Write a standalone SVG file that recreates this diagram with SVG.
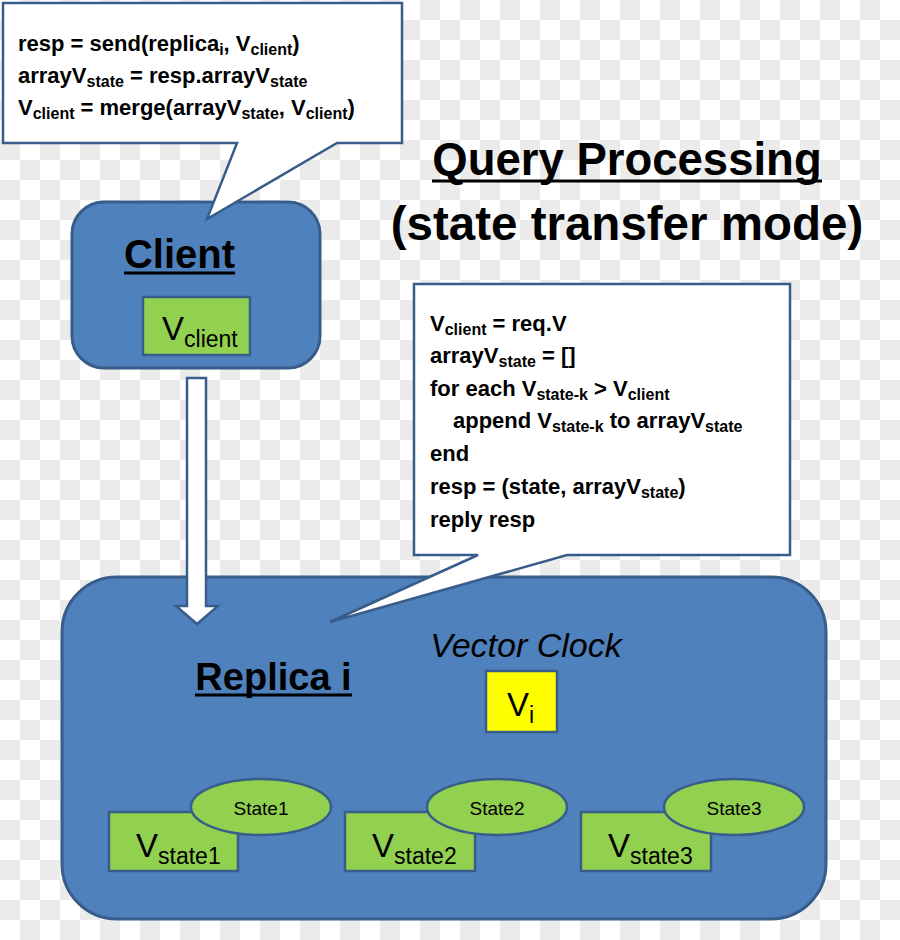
<svg xmlns="http://www.w3.org/2000/svg" width="900" height="940" viewBox="0 0 900 940">
<defs>
<pattern id="chk" patternUnits="userSpaceOnUse" width="40" height="40">
<rect width="40" height="40" fill="#ffffff"/>
<rect x="20" y="0" width="20" height="20" fill="#ebebeb"/>
<rect x="0" y="20" width="20" height="20" fill="#ebebeb"/>
</pattern>
<style>
.box{fill:#4f81bd;stroke:#385d8a;stroke-width:3}
.grn{fill:#92d050;stroke:#385d8a;stroke-width:2.5}
.call{fill:#ffffff;stroke:#385d8a;stroke-width:2.5;stroke-linejoin:miter}
.code{font-family:"Liberation Sans",Arial,sans-serif;font-weight:bold;font-size:22px;fill:#000}
.sub{font-size:16px}
.hdr{font-family:"Liberation Sans",Arial,sans-serif;font-weight:bold;fill:#000}
.ul{stroke:#000;stroke-width:3}
.lbl{font-family:"Liberation Sans",Arial,sans-serif;fill:#000}
</style>
</defs>
<rect width="900" height="940" fill="url(#chk)"/>

<g id="title">
<text class="hdr" x="627" y="175" font-size="45.5" text-anchor="middle">Query Processing</text>
<line class="ul" x1="432" y1="181" x2="822" y2="181"/>
<text class="hdr" x="627" y="240" font-size="47.5" text-anchor="middle">(state transfer mode)</text>
</g>

<g id="client">
<rect class="box" x="72" y="202" width="248" height="166" rx="32"/>
<text class="hdr" x="179.5" y="268" font-size="40" text-anchor="middle">Client</text>
<line class="ul" x1="124" y1="273" x2="235" y2="273"/>
<rect class="grn" x="143" y="297" width="107" height="58"/>
<text class="lbl" x="162" y="340" font-size="33">V<tspan font-size="23" dy="7">client</tspan></text>
</g>

<g id="replica">
<rect class="box" x="62" y="577" width="764" height="342" rx="55"/>
<text class="hdr" x="273.5" y="690" font-size="38" text-anchor="middle">Replica i</text>
<line class="ul" x1="195" y1="695" x2="352" y2="695"/>
<text class="lbl" x="526" y="657" font-size="34" font-style="italic" text-anchor="middle">Vector Clock</text>
</g>

<g id="vi">
<rect x="486" y="671" width="71" height="61" fill="#ffff00" stroke="#385d8a" stroke-width="2.5"/>
<text class="lbl" x="507" y="716" font-size="33">V<tspan font-size="23" dy="7">i</tspan></text>
</g>

<g id="state1">
<rect class="grn" x="109" y="812" width="129" height="59"/>
<ellipse class="grn" cx="261" cy="807" rx="70" ry="28"/>
<text class="lbl" x="261" y="815" font-size="19" text-anchor="middle">State1</text>
<text class="lbl" x="136" y="857" font-size="33">V<tspan font-size="23" dy="7">state1</tspan></text>
</g>
<g id="state2">
<rect class="grn" x="345" y="812" width="130" height="59"/>
<ellipse class="grn" cx="497" cy="807" rx="70" ry="28"/>
<text class="lbl" x="497" y="815" font-size="19" text-anchor="middle">State2</text>
<text class="lbl" x="372" y="857" font-size="33">V<tspan font-size="23" dy="7">state2</tspan></text>
</g>
<g id="state3">
<rect class="grn" x="581" y="812" width="130" height="59"/>
<ellipse class="grn" cx="734" cy="807" rx="70" ry="28"/>
<text class="lbl" x="734" y="815" font-size="19" text-anchor="middle">State3</text>
<text class="lbl" x="608" y="857" font-size="33">V<tspan font-size="23" dy="7">state3</tspan></text>
</g>

<g id="connectors">
<polygon points="187,378 206,378 206,606 218,606 197,624 176,606 187,606" fill="#ffffff" stroke="#385d8a" stroke-width="2.5"/>
</g>

<g id="callout-client">
<path class="call" d="M3,3 H402 V143 H337 L207,219 L237,143 H3 Z"/>
<text class="code" x="18" y="51">resp = send(replica<tspan class="sub" dy="4">i</tspan><tspan dy="-4">, V</tspan><tspan class="sub" dy="4">client</tspan><tspan dy="-4">)</tspan></text>
<text class="code" x="18" y="83">arrayV<tspan class="sub" dy="4">state</tspan><tspan dy="-4"> = resp.arrayV</tspan><tspan class="sub" dy="4">state</tspan></text>
<text class="code" x="18" y="115">V<tspan class="sub" dy="4">client</tspan><tspan dy="-4"> = merge(arrayV</tspan><tspan class="sub" dy="4">state</tspan><tspan dy="-4">,  V</tspan><tspan class="sub" dy="4">client</tspan><tspan dy="-4">)</tspan></text>
</g>

<g id="callout-replica">
<path class="call" d="M414,284 H790 V555 H567 L330,622 L478,555 H414 Z"/>
<text class="code" x="430" y="331">V<tspan class="sub" dy="4">client</tspan><tspan dy="-4"> = req.V</tspan></text>
<text class="code" x="430" y="363">arrayV<tspan class="sub" dy="4">state</tspan><tspan dy="-4"> = []</tspan></text>
<text class="code" x="430" y="396">for each V<tspan class="sub" dy="4">state-k</tspan><tspan dy="-4"> &gt; V</tspan><tspan class="sub" dy="4">client</tspan></text>
<text class="code" x="453" y="428">append V<tspan class="sub" dy="4">state-k</tspan><tspan dy="-4">  to arrayV</tspan><tspan class="sub" dy="4">state</tspan></text>
<text class="code" x="430" y="461">end</text>
<text class="code" x="430" y="494">resp = (state, arrayV<tspan class="sub" dy="4">state</tspan><tspan dy="-4">)</tspan></text>
<text class="code" x="430" y="527">reply resp</text>
</g>
</svg>
